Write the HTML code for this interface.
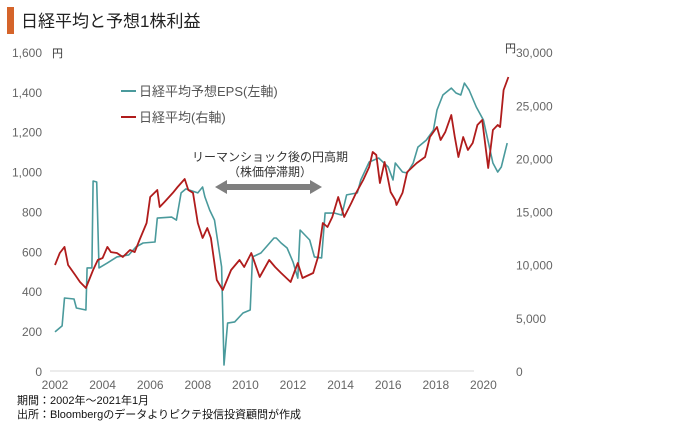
<!DOCTYPE html>
<html><head><meta charset="utf-8"><style>
body{margin:0;background:#fff;width:680px;height:423px;overflow:hidden;font-family:"Liberation Sans","Noto Sans CJK JP",sans-serif}
svg text{font-family:"Liberation Sans","Noto Sans CJK JP",sans-serif}
</style></head><body>
<svg id="c" width="680" height="423">
<rect x="7" y="7" width="7" height="27" fill="#d5642a"/>
<text x="21" y="27" font-size="17" fill="#222">日経平均と予想1株利益</text>
<text x="524" y="413" font-size="0"></text>
<line x1="50" y1="371" x2="474" y2="371" stroke="#d9d9d9" stroke-width="1"/>
<g id="yl"></g>
<g id="yr"></g>
<g id="xl"></g>
<text x="52" y="57" font-size="11" fill="#333">円</text>
<text x="505" y="52" font-size="11" fill="#333">円</text>
<g id="series"></g>
<g>
<line x1="121" y1="91" x2="136" y2="91" stroke="#4a9a9c" stroke-width="2"/>
<text x="139" y="96" font-size="13" fill="#555">日経平均予想EPS(左軸)</text>
<line x1="121" y1="117" x2="136" y2="117" stroke="#b01c1c" stroke-width="2"/>
<text x="139" y="122" font-size="13" fill="#555">日経平均(右軸)</text>
</g>
<g>
<text x="270" y="161" font-size="12" fill="#333" text-anchor="middle">リーマンショック後の円高期</text>
<text x="270" y="176" font-size="12" fill="#333" text-anchor="middle">（株価停滞期）</text>
<polygon points="215,187 227,180 227,184 310,184 310,180 322,187 310,194 310,190 227,190 227,194" fill="#7f7f7f"/>
</g>
<text x="17" y="404" font-size="11" fill="#111">期間：2002年～2021年1月</text>
<text x="17" y="418" font-size="11" fill="#111">出所：Bloombergのデータよりピクテ投信投資顧問が作成</text>
</svg>
<script>
const leftTicks=[0,200,400,600,800,1000,1200,1400,1600];
const leftTickLabels=["0","200","400","600","800","1,000","1,200","1,400","1,600"];
const rightTicks=[0,5000,10000,15000,20000,25000,30000];
const rightTickLabels=["0","5,000","10,000","15,000","20,000","25,000","30,000"];
const xTicks=[2002,2004,2006,2008,2010,2012,2014,2016,2018,2020];
const epsYears=[2002.0,2002.3,2002.4,2002.8,2002.9,2003.3,2003.35,2003.55,2003.6,2003.75,2003.85,2004.2,2004.6,2005.1,2005.4,2005.7,2006.2,2006.3,2006.9,2007.1,2007.3,2007.5,2008.0,2008.2,2008.3,2008.5,2008.7,2009.0,2009.1,2009.25,2009.55,2009.9,2010.2,2010.3,2010.65,2011.2,2011.3,2011.5,2011.75,2012.0,2012.2,2012.3,2012.7,2012.9,2013.2,2013.35,2013.75,2014.05,2014.25,2014.7,2014.85,2015.2,2015.6,2016.0,2016.2,2016.3,2016.6,2016.8,2017.05,2017.25,2017.6,2017.9,2018.05,2018.3,2018.65,2018.85,2019.05,2019.2,2019.4,2019.7,2020.0,2020.25,2020.4,2020.6,2020.75,2021.0];
const epsValues=[196,226,366,361,316,306,517,517,953,948,517,542,572,582,622,642,647,767,772,757,893,913,893,923,873,807,757,522,30,240,246,291,306,572,592,667,667,642,617,547,466,707,657,572,567,792,792,782,883,893,958,1048,1068,1023,958,1043,998,993,1043,1123,1158,1208,1309,1384,1419,1394,1384,1444,1409,1324,1259,1123,1043,998,1023,1143];
const nkYears=[2002.0,2002.2,2002.4,2002.55,2002.85,2003.05,2003.3,2003.6,2003.8,2004.0,2004.2,2004.35,2004.6,2004.85,2005.15,2005.35,2005.55,2005.85,2006.0,2006.3,2006.4,2006.6,2006.95,2007.15,2007.45,2007.6,2007.8,2008.0,2008.2,2008.4,2008.55,2008.8,2009.05,2009.4,2009.75,2009.95,2010.25,2010.6,2011.0,2011.25,2011.5,2011.9,2012.2,2012.4,2012.85,2013.05,2013.25,2013.45,2013.65,2013.9,2014.15,2014.45,2014.65,2014.95,2015.2,2015.35,2015.5,2015.65,2015.85,2016.1,2016.3,2016.35,2016.6,2016.8,2017.2,2017.55,2017.75,2018.05,2018.2,2018.4,2018.65,2018.8,2018.95,2019.15,2019.35,2019.55,2019.75,2019.95,2020.2,2020.4,2020.6,2020.7,2020.85,2021.05];
const nkValues=[9970,11100,11670,9970,9030,8370,7810,9500,10440,10630,11670,11190,11100,10720,11380,11190,12320,13920,16370,17030,15430,15900,16750,17310,18060,17030,16750,13920,12510,13450,12510,8560,7620,9500,10440,9780,11100,8840,10440,9780,9220,8370,10160,8750,9220,10720,13920,13550,14490,16370,14490,15800,16750,17970,19190,20600,20320,17690,19660,16840,16090,15620,16750,18720,19570,20130,22010,22950,21730,22480,24080,22010,20130,22010,20790,21450,23140,23610,19100,22670,23140,22950,26430,27660];
const NS="http://www.w3.org/2000/svg";
const xS=y=>55+(y-2002)*23.8;
const yL=v=>371-v*0.1994;
const yR=v=>371-v*0.01063;
function mk(tag,attrs,parent,txt){const e=document.createElementNS(NS,tag);for(const k in attrs)e.setAttribute(k,attrs[k]);if(txt!==undefined)e.textContent=txt;parent.appendChild(e);return e;}
const yl=document.getElementById('yl'),yr=document.getElementById('yr'),xl=document.getElementById('xl'),sg=document.getElementById('series');
leftTicks.forEach((v,i)=>{const t=mk('text',{x:42,y:yL(v)+5,'font-size':12,fill:'#666','text-anchor':'end'},yl,leftTickLabels[i]);

});
rightTicks.forEach((v,i)=>{const t=mk('text',{x:516,y:yR(v)+5,'font-size':12,fill:'#666'},yr,rightTickLabels[i]);

});
xTicks.forEach(v=>{const t=mk('text',{x:xS(v),y:389,'font-size':12,fill:'#666','text-anchor':'middle'},xl,String(v));

});
const p1=mk('polyline',{points:epsYears.map((y,i)=>xS(y).toFixed(1)+','+yL(epsValues[i]).toFixed(1)).join(' '),fill:'none',stroke:'#4a9a9c','stroke-width':1.6,'stroke-linejoin':'round'},sg);


const p2=mk('polyline',{points:nkYears.map((y,i)=>xS(y).toFixed(1)+','+yR(nkValues[i]).toFixed(1)).join(' '),fill:'none',stroke:'#b01c1c','stroke-width':1.8,'stroke-linejoin':'round'},sg);


</script>
</body></html>
